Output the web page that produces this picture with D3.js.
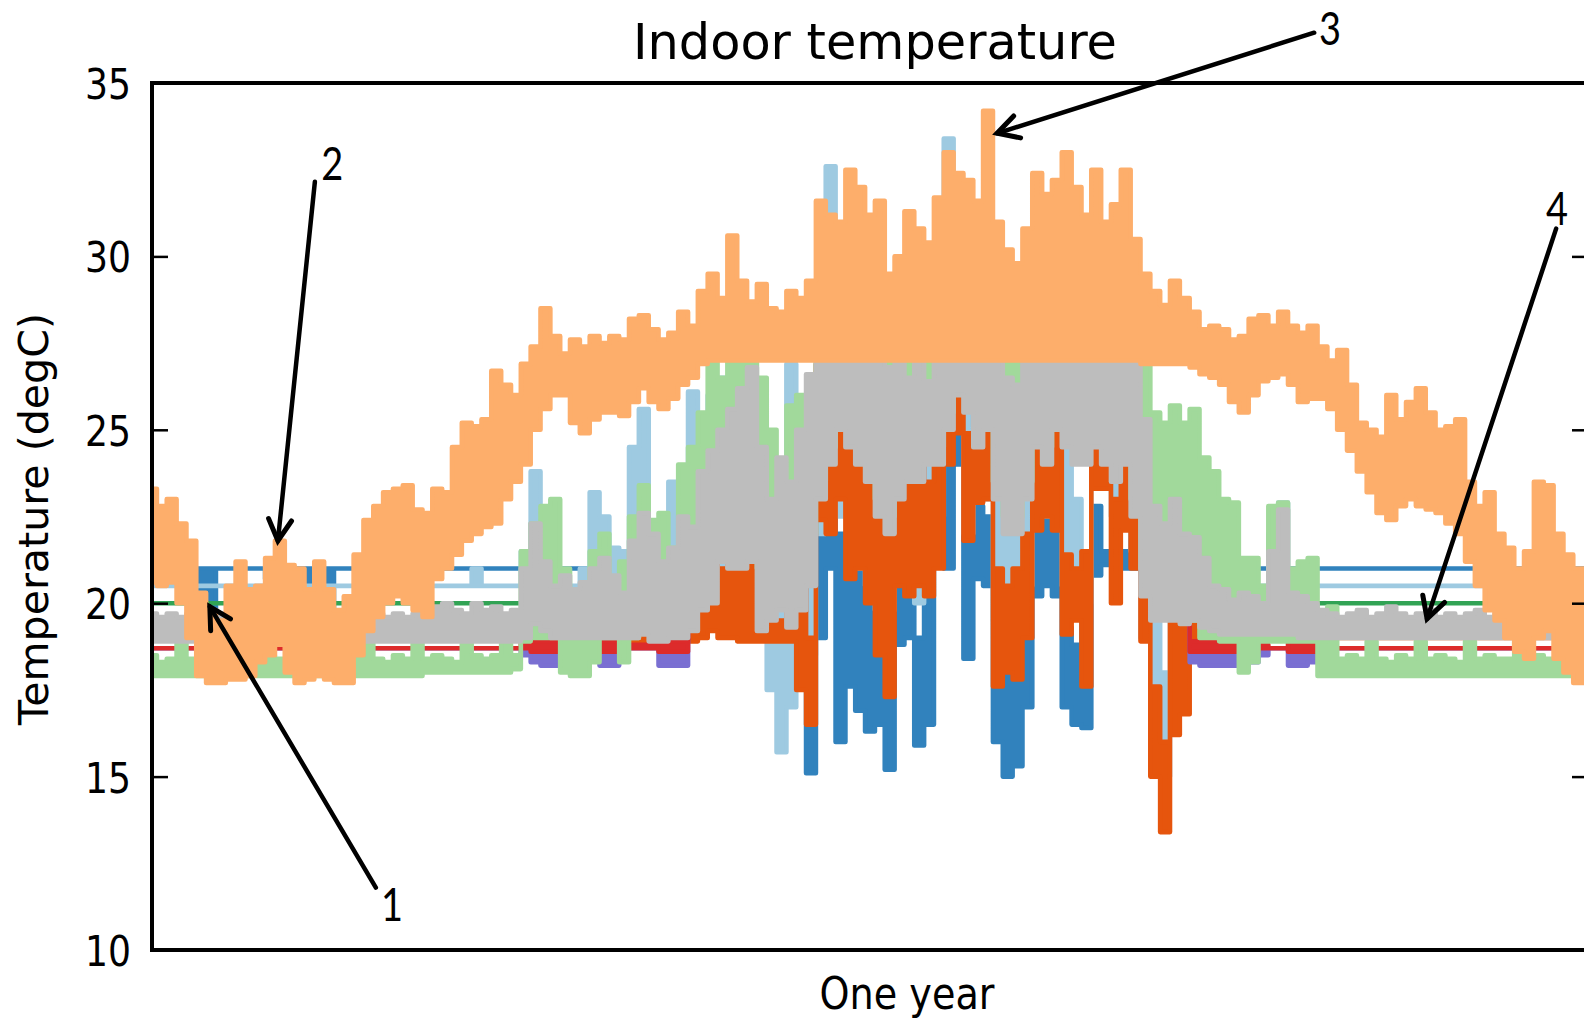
<!DOCTYPE html>
<html><head><meta charset="utf-8">
<script src="https://cdn.jsdelivr.net/npm/d3@7"></script>
<style>html,body{margin:0;padding:0;background:#fff;}svg{display:block;}</style>
</head><body>
<svg id="chart" width="1584" height="1019"></svg>
<script>
// ---------------- data (one sample every 2.5 days over one year) ----------------
const STEP_DAYS = 2.5;
const yTicks = [10, 15, 20, 25, 30, 35];
const titleText = "Indoor temperature";
const yLabelText = "Temperature (degC)";
const xLabelText = "One year";

const orangeHi = [
23.3,22.8,23.0,22.3,21.8,20.3,19.8,19.5,20.5,21.2,
20.4,20.5,21.3,21.8,21.1,21.0,20.4,21.2,20.4,19.8,
20.2,21.4,22.4,22.8,23.2,23.3,23.4,22.7,22.6,23.3,
23.2,24.5,25.2,25.1,25.3,26.7,26.3,26.0,26.9,27.4,
28.5,27.7,27.2,27.6,27.4,27.7,27.5,27.7,27.6,28.2,
28.3,27.9,27.6,27.8,28.4,28.0,29.0,29.5,28.8,30.6,
29.3,28.7,29.2,28.5,28.4,29.0,28.8,29.3,31.6,31.2,
31.0,32.5,32.0,31.2,31.6,29.5,30.0,31.3,30.8,30.4,
31.7,33.0,32.4,32.2,31.6,34.2,31.0,30.2,29.8,30.8,
32.4,31.8,32.2,33.0,32.0,31.2,32.5,31.0,31.5,32.5,
30.5,29.5,29.0,28.6,29.3,28.8,28.4,27.9,28.0,27.9,
27.6,27.7,28.2,28.3,28.0,28.4,28.0,27.8,28.0,27.4,
27.0,27.3,26.3,25.2,25.0,24.8,26.0,25.3,25.8,26.2,
25.5,25.0,25.1,25.3,23.5,22.8,23.2,22.0,21.6,21.0,
21.5,23.5,23.4,22.0,21.4,21.0,20.6];
const orangeLo = [
20.6,20.5,20.6,20.0,19.0,17.9,17.7,17.7,17.8,17.8,
17.9,18.3,18.5,18.8,18.0,17.7,17.8,17.9,17.8,17.7,
17.7,18.5,19.2,19.6,20.0,20.2,20.0,19.8,19.6,20.7,
21.0,21.4,21.8,22.0,22.2,22.3,23.0,23.5,24.0,25.0,
25.6,26.0,26.0,25.2,24.9,25.3,25.5,25.5,25.4,25.8,
26.2,25.8,25.6,25.9,26.3,26.5,26.9,27.0,27.0,27.0,
27.0,27.0,27.0,27.0,27.0,27.0,27.0,27.0,27.0,27.0,
27.0,27.0,27.0,27.0,27.0,27.0,27.0,27.0,27.0,27.0,
27.0,27.0,27.0,27.0,27.0,27.0,27.0,27.0,27.0,27.0,
27.0,27.0,27.0,27.0,27.0,27.0,27.0,27.0,27.0,27.0,
27.0,26.9,26.9,26.9,26.9,26.9,26.8,26.6,26.5,26.3,
25.8,25.5,26.0,26.4,26.5,26.6,26.3,25.8,25.9,25.9,
25.6,25.0,24.4,23.8,23.2,22.6,22.4,22.8,23.0,22.8,
22.7,22.6,22.3,22.0,21.2,20.5,19.8,19.5,19.0,18.6,
18.4,19.0,19.2,18.4,18.0,17.7,17.7];

const greyHi = [
19.7,19.6,19.7,19.6,19.7,19.6,19.6,19.7,19.6,19.6,
19.7,19.6,19.7,19.6,19.7,19.6,19.6,19.7,19.7,19.6,
19.7,19.6,19.7,19.7,19.6,19.7,19.6,19.7,19.6,19.9,
20.0,19.8,19.7,20.0,19.8,19.9,19.7,19.8,21.0,22.3,
21.2,20.5,20.8,20.4,20.6,21.0,21.3,20.8,20.3,21.8,
22.6,22.0,21.2,21.6,22.5,22.2,23.8,24.4,25.0,25.6,
26.2,26.8,24.5,23.0,24.2,23.5,25.0,26.6,28.0,28.7,
28.2,27.9,27.5,27.4,27.7,26.8,27.2,26.5,27.0,26.4,
27.3,29.0,29.5,29.2,28.8,29.0,27.0,26.5,26.3,27.0,
28.8,28.0,28.5,30.0,29.0,27.5,27.6,28.3,27.6,28.6,
27.0,25.3,22.8,22.3,23.0,22.0,21.9,21.3,20.5,20.4,
20.1,20.3,20.2,20.0,21.5,22.7,20.3,20.2,20.0,19.8,
19.7,19.6,19.7,19.8,19.6,19.7,19.9,19.7,19.6,19.7,
19.8,19.6,19.7,19.6,19.7,19.8,19.6,19.7,19.6,19.7,
19.6,19.7,19.6,19.7,19.6,19.7,19.6];
const greyLo = [
18.9,18.9,18.9,18.9,18.9,18.9,18.9,18.9,18.9,18.9,
18.9,18.9,18.9,18.9,18.9,18.9,18.9,18.9,18.9,18.9,
18.9,18.9,18.9,18.9,18.9,18.9,18.9,18.9,18.9,18.9,
18.9,18.9,18.9,18.9,18.9,18.9,18.9,18.9,19.0,19.4,
19.2,19.0,19.0,19.0,19.0,19.0,19.0,19.0,19.0,19.0,
19.1,18.9,18.9,19.0,19.0,19.2,19.8,20.0,21.2,21.0,
21.0,21.2,19.2,19.5,19.8,19.3,19.8,20.5,23.0,24.0,
25.0,24.5,24.0,23.5,22.5,22.0,23.0,23.5,23.5,24.0,
24.0,25.0,26.0,25.5,24.5,25.0,23.0,22.0,22.0,23.0,
24.5,24.0,25.0,24.5,24.0,24.0,24.5,24.0,23.5,24.0,
22.5,20.2,19.5,19.5,19.5,19.4,19.5,19.3,19.2,19.1,
19.1,19.1,19.1,19.1,19.1,19.1,19.1,19.0,19.0,19.0,
19.0,19.0,19.0,19.0,19.0,19.0,19.0,19.0,19.0,19.0,
19.0,19.0,19.0,19.0,19.0,19.0,19.0,19.0,19.0,19.0,
19.0,19.0,19.0,19.0,19.0,19.0,19.0];

const greenHi = [
18.5,18.3,18.4,18.9,18.4,18.4,18.3,18.4,18.4,18.3,
18.9,18.4,18.5,18.4,18.3,18.4,18.9,18.3,18.4,18.4,
18.5,18.4,18.9,18.4,18.3,18.5,18.4,18.9,18.4,18.5,
18.4,18.3,18.9,18.5,18.4,18.5,19.0,18.5,21.5,22.3,
22.8,23.0,21.0,19.5,20.0,21.5,22.0,20.5,21.2,22.5,
23.4,22.4,22.6,21.6,24.0,24.5,25.5,27.0,26.5,27.0,
27.0,27.0,26.5,25.0,24.0,25.7,26.0,24.0,27.0,27.0,
27.0,27.0,27.0,27.0,27.0,27.1,27.0,27.0,27.0,27.0,
27.0,27.0,27.0,27.0,27.0,27.0,27.0,27.0,27.0,27.0,
27.0,27.0,27.0,27.0,27.0,27.0,27.0,27.0,27.0,27.0,
27.0,27.0,25.5,25.2,25.7,25.2,25.6,24.2,23.8,23.0,
22.9,21.3,21.3,20.5,22.8,22.9,21.0,21.2,21.3,18.9,
19.9,18.4,18.5,18.4,18.9,18.4,18.3,18.5,18.4,18.9,
18.4,18.5,18.4,18.3,18.9,18.4,18.5,18.4,18.4,18.9,
18.4,18.5,18.4,18.3,18.9,18.4,18.3];
const greenLo = [
17.9,17.9,17.9,17.9,17.9,17.9,17.9,17.9,17.9,17.9,
17.9,17.9,17.9,17.9,17.9,17.9,17.9,17.9,17.9,17.9,
17.9,17.9,17.9,17.9,17.9,17.9,17.9,17.9,18.0,18.0,
18.0,18.0,18.0,18.0,18.0,18.0,18.0,18.1,18.9,19.0,
19.0,19.0,18.0,17.9,17.9,18.3,19.0,19.0,18.3,19.0,
19.5,19.3,19.5,19.5,19.5,20.0,21.0,22.0,22.5,22.0,
21.5,21.5,21.0,21.5,21.0,21.5,22.0,22.0,23.5,24.5,
25.5,25.0,24.5,24.0,23.0,22.5,23.5,24.0,24.0,24.5,
24.5,25.5,26.5,26.0,25.0,25.5,23.5,22.5,22.5,23.5,
25.0,24.5,25.5,25.0,24.5,24.5,25.0,24.5,24.0,24.5,
23.0,21.0,20.0,20.0,20.5,20.5,19.5,19.0,19.0,18.9,
18.9,18.0,18.3,18.9,18.9,18.9,18.9,18.9,18.9,17.9,
17.9,17.9,17.9,17.9,17.9,17.9,17.9,17.9,17.9,17.9,
17.9,17.9,17.9,17.9,17.9,17.9,17.9,17.9,17.9,17.9,
17.9,17.9,17.9,17.9,17.9,17.9,17.9];

const blueHi = [
21.0,21.0,21.0,21.0,21.0,21.0,21.0,21.0,21.0,21.0,
21.0,21.0,21.0,21.0,21.0,21.0,21.0,21.0,21.0,21.0,
21.0,21.0,21.0,21.0,21.0,21.0,21.0,21.0,21.0,21.0,
21.0,21.0,21.0,21.0,21.0,21.0,21.0,21.0,21.0,21.0,
21.0,21.0,21.0,21.0,21.0,21.0,21.0,21.0,21.0,21.0,
21.0,21.0,21.1,21.0,21.0,21.2,21.0,21.0,21.2,21.6,
21.2,21.0,21.0,21.2,21.0,21.0,21.0,21.5,24.0,23.4,
22.0,22.0,21.0,20.0,20.5,19.5,23.2,22.0,19.0,21.0,
24.0,24.5,25.7,23.0,22.8,22.5,20.5,19.3,19.0,21.0,
23.5,22.5,23.0,19.3,18.8,21.5,22.8,21.5,21.5,21.5,
22.8,21.0,21.0,21.0,21.0,21.0,21.0,21.2,21.0,21.0,
21.0,21.0,21.0,21.0,21.0,21.0,21.0,21.0,21.0,21.0,
21.0,21.0,21.0,21.0,21.0,21.0,21.0,21.0,21.0,21.0,
21.0,21.0,21.0,21.0,21.0,21.0,21.0,21.0,21.0,21.0,
21.0,21.0,21.0,21.0,21.0,21.0,21.0];
const blueLo = [
21.0,21.0,21.0,21.0,21.0,19.5,19.6,21.0,21.0,21.0,
21.0,21.0,20.7,21.0,20.0,21.0,19.8,21.0,19.6,21.0,
21.0,21.0,21.0,21.0,21.0,21.0,21.0,21.0,21.0,21.0,
21.0,21.0,21.0,21.0,21.0,21.0,21.0,21.0,21.0,21.0,
21.0,21.0,21.0,21.0,21.0,21.0,21.0,21.0,21.0,21.0,
21.0,21.0,21.0,21.0,21.0,21.0,21.0,21.0,21.0,21.0,
21.0,21.0,21.0,21.0,21.0,21.0,21.0,15.1,19.0,21.0,
16.0,17.6,16.9,16.3,16.5,15.2,18.8,19.0,15.9,16.5,
21.4,21.0,24.0,18.4,20.7,20.5,16.0,15.0,15.3,17.0,
20.2,20.5,20.2,17.0,16.5,16.4,20.8,21.1,21.1,21.0,
21.0,21.0,21.0,21.0,21.0,21.0,21.0,21.0,21.0,21.0,
21.0,21.0,21.0,21.0,21.0,21.0,21.0,21.0,21.0,21.0,
21.0,21.0,21.0,21.0,21.0,21.0,21.0,21.0,21.0,21.0,
21.0,21.0,21.0,21.0,21.0,21.0,21.0,21.0,21.0,21.0,
21.0,21.0,21.0,21.0,21.0,19.8,19.8];

const lightBlueHi = [
20.5,20.5,20.5,20.5,20.5,20.5,20.5,20.5,20.5,20.5,
20.5,20.5,20.5,20.5,20.5,20.5,20.5,20.5,20.5,20.5,
20.5,20.5,20.5,20.5,20.5,20.5,20.5,20.5,20.5,20.5,
20.5,20.5,20.5,21.0,20.5,20.5,20.5,20.5,21.5,23.8,
22.0,21.0,20.5,20.5,21.0,23.2,22.5,21.6,21.5,24.5,
25.6,22.0,21.0,23.5,22.4,26.1,25.0,26.0,26.5,25.0,
25.5,24.0,23.0,21.0,20.0,26.9,24.0,23.0,28.0,32.6,
27.0,26.1,25.5,25.0,24.0,23.5,25.5,25.0,24.0,25.0,
26.0,33.4,28.5,27.0,27.5,27.0,24.0,22.5,23.0,24.5,
27.0,26.5,27.5,25.0,23.0,21.5,26.5,27.0,25.0,27.5,
25.0,23.0,19.5,18.0,21.5,21.5,20.8,20.5,20.5,20.5,
20.5,20.5,20.5,20.5,22.0,22.9,20.5,20.5,20.5,20.5,
20.5,20.5,20.5,20.5,20.5,20.5,20.5,20.5,20.5,20.5,
20.5,20.5,20.5,20.5,20.5,20.5,20.5,20.5,20.5,20.5,
20.5,20.5,20.5,20.5,20.5,20.5,20.5];
const lightBlueLo = [
20.5,20.5,20.5,20.5,20.5,20.5,20.5,20.5,20.5,20.5,
20.5,20.5,20.5,20.5,20.5,20.5,20.5,20.5,20.5,20.5,
20.5,20.5,20.5,20.5,20.5,20.5,20.5,20.5,20.5,20.5,
20.5,20.5,20.5,20.5,20.5,20.5,20.5,20.5,20.5,21.0,
20.5,20.0,19.8,19.5,19.5,20.0,19.8,19.5,19.5,20.0,
20.0,19.5,19.5,19.8,19.5,20.5,21.0,21.5,21.0,21.0,
20.5,20.0,19.0,17.5,15.7,17.0,19.5,18.5,22.0,23.0,
22.5,22.5,21.0,20.5,19.8,19.8,21.5,21.0,20.0,21.5,
22.5,25.0,25.0,22.0,23.0,23.0,19.5,19.0,19.0,20.5,
23.0,22.5,23.0,20.5,20.0,20.0,24.0,23.5,22.5,23.0,
21.5,19.0,15.5,15.0,17.5,19.0,20.0,20.5,20.5,20.5,
20.5,20.5,20.5,20.5,20.5,20.5,20.5,20.5,20.5,20.5,
20.5,20.5,20.5,20.5,20.5,20.5,20.5,20.5,20.5,20.5,
20.5,20.5,20.5,20.5,20.5,20.5,20.5,20.5,20.5,20.5,
20.5,20.5,20.5,20.5,20.5,20.5,20.5];

const darkOrangeHi = [
19.0,19.0,19.0,19.0,19.0,19.0,19.0,19.0,19.0,19.0,
19.0,19.0,19.0,19.0,19.0,19.0,19.0,19.0,19.0,19.0,
19.0,19.0,19.0,19.0,19.0,19.0,19.0,19.0,19.0,19.0,
19.0,19.0,19.0,19.0,19.0,19.0,19.0,19.0,19.0,19.5,
19.0,19.0,19.0,19.0,19.0,19.0,19.0,19.0,19.3,19.1,
19.3,19.5,19.2,19.4,19.3,20.5,21.5,22.0,21.0,22.7,
22.5,21.5,20.0,19.5,19.5,21.0,20.5,19.0,26.9,25.0,
26.0,24.9,24.0,24.2,23.0,22.0,24.5,24.9,24.0,23.5,
24.5,26.4,27.2,24.9,26.5,25.5,21.0,20.5,21.0,22.0,
26.3,25.5,26.0,21.4,21.0,21.5,25.8,25.0,23.0,25.7,
24.0,21.5,17.6,16.0,20.2,19.5,19.5,19.1,19.0,19.0,
19.0,19.0,19.0,19.0,19.0,19.0,19.0,19.0,19.0,19.0,
19.0,19.0,19.0,19.0,19.0,19.0,19.0,19.0,19.0,19.0,
19.0,19.0,19.0,19.0,19.0,19.0,19.0,19.0,19.0,19.0,
19.0,19.0,19.0,19.0,19.0,19.0,19.0];
const darkOrangeLo = [
19.0,19.0,19.0,19.0,19.0,19.0,19.0,19.0,19.0,19.0,
19.0,19.0,19.0,19.0,19.0,19.0,19.0,19.0,19.0,19.0,
19.0,19.0,19.0,19.0,19.0,19.0,19.0,19.0,19.0,19.0,
19.0,19.0,19.0,19.0,19.0,19.0,19.0,19.0,19.0,19.0,
18.9,18.9,18.9,18.9,18.9,18.9,18.9,18.9,18.9,18.9,
18.9,18.9,18.9,18.9,18.9,18.9,19.0,19.2,19.0,19.0,
18.9,18.9,18.9,18.9,18.9,18.9,17.5,16.5,22.4,22.0,
23.0,20.7,21.0,20.0,18.5,17.3,20.5,20.2,20.5,20.2,
21.0,24.0,24.9,21.8,22.9,23.0,17.6,18.0,17.8,19.0,
22.1,22.5,22.1,19.1,19.5,17.6,23.3,23.3,20.0,22.1,
21.0,18.9,15.0,13.4,16.2,16.8,18.9,18.9,19.0,19.0,
19.0,19.0,19.0,19.0,19.0,19.0,19.0,19.0,19.0,19.0,
19.0,19.0,19.0,19.0,19.0,19.0,19.0,19.0,19.0,19.0,
19.0,19.0,19.0,19.0,19.0,19.0,19.0,19.0,19.0,19.0,
19.0,19.0,19.0,19.0,19.0,19.0,19.0];

const redHi = [
18.7,18.7,18.7,18.7,18.7,18.7,18.7,18.7,18.7,18.7,
18.7,18.7,18.7,18.7,18.7,18.7,18.7,18.7,18.7,18.7,
18.7,18.7,18.7,18.7,18.7,18.7,18.7,18.7,18.7,18.7,
18.7,18.7,18.7,18.7,18.7,18.7,18.7,18.7,18.9,18.9,
18.9,18.9,18.9,18.8,18.8,18.8,18.9,18.9,18.8,18.8,
18.8,18.8,18.9,18.9,18.9,20.7,21.8,22.2,23.1,23.3,
23.6,24.0,21.9,21.3,22.0,21.4,22.4,23.5,25.5,26.3,
26.6,26.2,25.8,25.5,25.1,24.4,25.1,25.0,25.3,25.2,
25.7,27.0,27.8,27.4,26.7,27.0,25.0,24.3,24.2,25.0,
26.7,26.0,26.8,27.3,26.5,25.8,26.1,26.2,25.6,26.3,
24.8,22.8,21.2,20.9,21.3,20.7,18.9,18.9,18.9,18.9,
18.9,18.9,18.9,18.8,18.7,18.7,18.9,18.9,18.9,18.7,
18.7,18.7,18.7,18.7,18.7,18.7,18.7,18.7,18.7,18.7,
18.7,18.7,18.7,18.7,18.7,18.7,18.7,18.7,18.7,18.7,
18.7,18.7,18.7,18.7,18.7,18.7,18.7];
const redLo = [
18.7,18.7,18.7,18.7,18.7,18.7,18.7,18.7,18.7,18.7,
18.7,18.7,18.7,18.7,18.7,18.7,18.7,18.7,18.7,18.7,
18.7,18.7,18.7,18.7,18.7,18.7,18.7,18.7,18.7,18.7,
18.7,18.7,18.7,18.7,18.7,18.7,18.7,18.7,18.7,18.6,
18.6,18.6,18.6,18.7,18.7,18.7,18.6,18.6,18.7,18.7,
18.7,18.7,18.6,18.6,18.6,20.7,21.8,22.2,23.1,23.3,
23.6,24.0,21.9,21.3,22.0,21.4,22.4,23.5,25.5,26.3,
26.6,26.2,25.8,25.5,25.1,24.4,25.1,25.0,25.3,25.2,
25.7,27.0,27.8,27.4,26.7,27.0,25.0,24.3,24.2,25.0,
26.7,26.0,26.8,27.3,26.5,25.8,26.1,26.2,25.6,26.3,
24.8,22.8,21.2,20.9,21.3,20.7,18.6,18.6,18.6,18.6,
18.6,18.6,18.6,18.7,18.7,18.7,18.6,18.6,18.6,18.7,
18.7,18.7,18.7,18.7,18.7,18.7,18.7,18.7,18.7,18.7,
18.7,18.7,18.7,18.7,18.7,18.7,18.7,18.7,18.7,18.7,
18.7,18.7,18.7,18.7,18.7,18.7,18.7];

const purpleHi = [
18.7,18.7,18.7,18.7,18.7,18.7,18.7,18.7,18.7,18.7,
18.7,18.7,18.7,18.7,18.7,18.7,18.7,18.7,18.7,18.7,
18.7,18.7,18.7,18.7,18.7,18.7,18.7,18.7,18.7,18.7,
18.7,18.7,18.7,18.7,18.7,18.7,18.7,18.7,18.7,18.7,
18.7,18.7,18.7,18.7,18.7,18.7,18.6,18.6,18.7,18.7,
18.7,18.7,18.6,18.6,18.6,20.7,21.8,22.2,23.1,23.3,
23.6,24.0,21.9,21.3,22.0,21.4,22.4,23.5,25.5,26.3,
26.6,26.2,25.8,25.5,25.1,24.4,25.1,25.0,25.3,25.2,
25.7,27.0,27.8,27.4,26.7,27.0,25.0,24.3,24.2,25.0,
26.7,26.0,26.8,27.3,26.5,25.8,26.1,26.2,25.6,26.3,
24.8,22.8,21.2,20.9,21.3,20.7,18.7,18.7,18.6,18.6,
18.6,18.6,18.6,18.7,18.7,18.7,18.6,18.6,18.6,18.7,
18.7,18.7,18.7,18.7,18.7,18.7,18.7,18.7,18.7,18.7,
18.7,18.7,18.7,18.7,18.7,18.7,18.7,18.7,18.7,18.7,
18.7,18.7,18.7,18.7,18.7,18.7,18.7];
const purpleLo = [
18.7,18.7,18.7,18.7,18.7,18.7,18.7,18.7,18.7,18.7,
18.7,18.7,18.7,18.7,18.7,18.7,18.7,18.7,18.7,18.7,
18.7,18.7,18.7,18.7,18.7,18.7,18.7,18.7,18.7,18.7,
18.7,18.7,18.7,18.7,18.7,18.7,18.7,18.7,18.5,18.3,
18.2,18.2,18.2,18.5,18.7,18.7,18.2,18.2,18.7,18.7,
18.7,18.7,18.2,18.2,18.2,20.7,21.8,22.2,23.1,23.3,
23.6,24.0,21.9,21.3,22.0,21.4,22.4,23.5,25.5,26.3,
26.6,26.2,25.8,25.5,25.1,24.4,25.1,25.0,25.3,25.2,
25.7,27.0,27.8,27.4,26.7,27.0,25.0,24.3,24.2,25.0,
26.7,26.0,26.8,27.3,26.5,25.8,26.1,26.2,25.6,26.3,
24.8,22.8,21.2,20.9,21.3,20.7,18.3,18.2,18.2,18.2,
18.2,18.2,18.3,18.5,18.7,18.7,18.2,18.2,18.3,18.7,
18.7,18.7,18.7,18.7,18.7,18.7,18.7,18.7,18.7,18.7,
18.7,18.7,18.7,18.7,18.7,18.7,18.7,18.7,18.7,18.7,
18.7,18.7,18.7,18.7,18.7,18.7,18.7];

const darkGreen = [
20.0,20.0,20.0,20.0,20.0,20.0,20.0,20.0,20.0,20.0,
20.0,20.0,20.0,20.0,20.0,20.0,20.0,20.0,20.0,20.0,
20.0,20.0,20.0,20.0,20.0,20.0,20.0,20.0,20.0,20.0,
20.0,20.0,20.0,20.0,20.0,20.0,20.0,20.0,20.0,20.0,
20.0,20.0,20.0,20.0,20.0,20.0,20.0,20.0,20.0,20.0,
20.0,20.0,20.0,20.0,20.0,20.7,21.8,22.2,23.1,23.3,
23.6,24.0,21.9,21.3,22.0,21.4,22.4,23.5,25.5,26.3,
26.6,26.2,25.8,25.5,25.1,24.4,25.1,25.0,25.3,25.2,
25.7,27.0,27.8,27.4,26.7,27.0,25.0,24.3,24.2,25.0,
26.7,26.0,26.8,27.3,26.5,25.8,26.1,26.2,25.6,26.3,
24.8,22.8,21.2,20.9,21.3,20.7,20.0,20.0,20.0,20.0,
20.0,20.0,20.0,20.0,20.0,20.0,20.0,20.0,20.0,20.0,
20.0,20.0,20.0,20.0,20.0,20.0,20.0,20.0,20.0,20.0,
20.0,20.0,20.0,20.0,20.0,20.0,20.0,20.0,20.0,20.0,
20.0,20.0,20.0,20.0,20.0,20.0,20.0];

// annotation arrows, in data units (day of year, degC)
const arrowLabels = ["1", "2", "3", "4"];
const arrowTips   = [[14.7, 19.9], [32.0, 21.8], [214.8, 33.55], [324.1, 19.55]];
const arrowTails  = [[56.9, 11.8], [41.4, 32.15], [295.4, 36.45], [356.9, 30.8]];
const labelAnchor = [[61.0, 10.85], [45.8, 32.2], [299.4, 36.1], [357.1, 30.9]];

// ---------------- layout ----------------
const plotL = 152, plotR = 1588, plotT = 83, plotB = 950;
const svg = d3.select("#chart");

const x = d3.scaleLinear().domain([0, 365]).range([plotL, plotR]);
const y = d3.scaleLinear().domain([10, 35]).range([plotB, plotT]);

svg.append("defs").append("clipPath").attr("id", "plotclip")
  .append("rect").attr("x", plotL).attr("y", plotT).attr("width", plotR - plotL).attr("height", plotB - plotT);

const series = [
  {color: "#3182bd", hi: blueHi, lo: blueLo},
  {color: "#9ecae1", hi: lightBlueHi, lo: lightBlueLo},
  {color: "#e6550d", hi: darkOrangeHi, lo: darkOrangeLo},
  {color: "#7a6fd2", hi: purpleHi, lo: purpleLo},
  {color: "#dd2b2b", hi: redHi, lo: redLo},
  {color: "#31a354", hi: darkGreen, lo: darkGreen},
  {color: "#a1d99b", hi: greenHi, lo: greenLo},
  {color: "#bdbdbd", hi: greyHi, lo: greyLo},
  {color: "#fdae6b", hi: orangeHi, lo: orangeLo}
];

const area = d3.area()
  .x((d, i) => x(i * STEP_DAYS))
  .y0(d => y(d[1]))
  .y1(d => y(d[0]))
  .curve(d3.curveStep);

const gSeries = svg.append("g").attr("clip-path", "url(#plotclip)");
series.forEach(s => {
  gSeries.append("path")
    .datum(d3.zip(s.hi, s.lo))
    .attr("d", area)
    .attr("fill", s.color)
    .attr("stroke", s.color)
    .attr("stroke-width", 4.6)
    .attr("stroke-linejoin", "round");
});

// axes (ticks only, inward)
const yAxisL = d3.axisLeft(y).tickValues(yTicks).tickSizeInner(-16).tickSizeOuter(0).tickPadding(21);
const gl = svg.append("g").attr("transform", `translate(${plotL},0)`).call(yAxisL);
gl.select(".domain").remove();
gl.selectAll(".tick line").attr("stroke", "#000").attr("stroke-width", 2.5);
gl.selectAll(".tick text")
  .attr("fill", "#000")
  .attr("font-family", "DejaVu Sans")
  .attr("font-size", 43)
  .attr("dy", "0.36em")
  .attr("textLength", 46)
  .attr("lengthAdjust", "spacingAndGlyphs");

const yAxisR = d3.axisRight(y).tickValues(yTicks).tickSizeInner(-16).tickSizeOuter(0).tickFormat("");
const gr = svg.append("g").attr("transform", `translate(${plotR},0)`).call(yAxisR);
gr.select(".domain").remove();
gr.selectAll(".tick line").attr("stroke", "#000").attr("stroke-width", 2.5);

// spines
svg.append("rect")
  .attr("x", plotL).attr("y", plotT).attr("width", plotR - plotL).attr("height", plotB - plotT)
  .attr("fill", "none").attr("stroke", "#000").attr("stroke-width", 4);

// texts
svg.append("text")
  .attr("x", 875).attr("y", 59)
  .attr("text-anchor", "middle")
  .attr("font-family", "DejaVu Sans").attr("font-size", 50)
  .attr("textLength", 484).attr("lengthAdjust", "spacingAndGlyphs")
  .text(titleText);

svg.append("text")
  .attr("transform", "translate(48,519) rotate(-90)")
  .attr("text-anchor", "middle")
  .attr("font-family", "DejaVu Sans").attr("font-size", 40)
  .attr("textLength", 412).attr("lengthAdjust", "spacingAndGlyphs")
  .text(yLabelText);

svg.append("text")
  .attr("x", 907).attr("y", 1009)
  .attr("text-anchor", "middle")
  .attr("font-family", "DejaVu Sans").attr("font-size", 44)
  .attr("textLength", 175).attr("lengthAdjust", "spacingAndGlyphs")
  .text(xLabelText);

// annotation arrows
const ga = svg.append("g");
arrowLabels.forEach((lab, k) => {
  const tx = x(arrowTips[k][0]), ty = y(arrowTips[k][1]);
  const sx = x(arrowTails[k][0]), sy = y(arrowTails[k][1]);
  ga.append("line")
    .attr("x1", sx).attr("y1", sy).attr("x2", tx).attr("y2", ty)
    .attr("stroke", "#000").attr("stroke-width", 4.5).attr("stroke-linecap", "round");
  const ang = Math.atan2(sy - ty, sx - tx);
  const L = 24, spread = 0.5;
  const p1 = [tx + L * Math.cos(ang + spread), ty + L * Math.sin(ang + spread)];
  const p2 = [tx + L * Math.cos(ang - spread), ty + L * Math.sin(ang - spread)];
  ga.append("path")
    .attr("d", `M${p1[0]},${p1[1]}L${tx},${ty}L${p2[0]},${p2[1]}`)
    .attr("fill", "none").attr("stroke", "#000").attr("stroke-width", 5)
    .attr("stroke-linecap", "round").attr("stroke-linejoin", "miter");
  ga.append("text")
    .attr("x", x(labelAnchor[k][0])).attr("y", y(labelAnchor[k][1]))
    .attr("text-anchor", "middle")
    .attr("font-family", "Lato, 'Open Sans', sans-serif").attr("font-size", 46)
    .attr("textLength", 22).attr("lengthAdjust", "spacingAndGlyphs")
    .text(lab);
});
</script>
</body></html>
